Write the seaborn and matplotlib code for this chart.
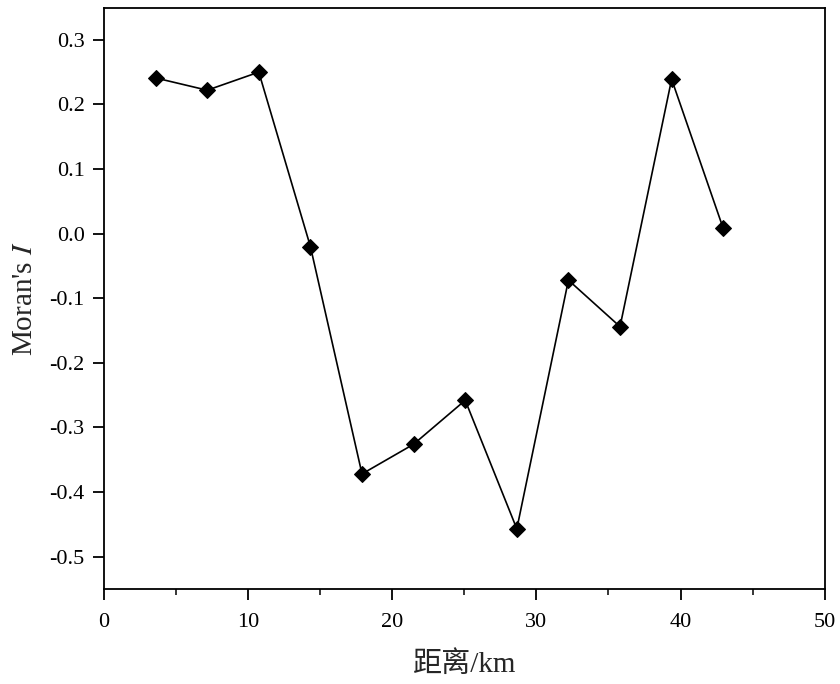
import matplotlib
matplotlib.use("Agg")
import matplotlib.pyplot as plt
import seaborn as sns
import pandas as pd
from matplotlib.ticker import MultipleLocator

distance = [3.58, 7.16, 10.74, 14.32, 17.90, 21.48, 25.06, 28.64, 32.22, 35.80, 39.38, 42.96]
morans_i = [0.241, 0.222, 0.250, -0.020, -0.372, -0.326, -0.258, -0.457, -0.072, -0.144, 0.239, 0.008]

df = pd.DataFrame({"distance": distance, "moran": morans_i})

sns.set_style("ticks")
plt.rcParams["font.family"] = ["Liberation Serif", "Noto Sans CJK SC"]
plt.rcParams["mathtext.fontset"] = "stix"
plt.rcParams["axes.linewidth"] = 1.3

fig = plt.figure(figsize=(8.4, 6.84), dpi=100)
ax = fig.add_axes([0.1238, 0.139, 0.858, 0.850])

sns.lineplot(x="distance", y="moran", data=df, ax=ax, color="black", linewidth=1.2,
             marker="D", markersize=8, markerfacecolor="black", markeredgecolor="black")

ax.set_xlim(0, 50)
ax.set_ylim(-0.55, 0.35)
ax.xaxis.set_major_locator(MultipleLocator(10))
ax.xaxis.set_minor_locator(MultipleLocator(5))
ax.yaxis.set_major_locator(MultipleLocator(0.1))
ax.yaxis.set_major_formatter(matplotlib.ticker.FuncFormatter(lambda v, p: f"{v:.1f}".replace("-0.0", "0.0")))

for s in ax.spines.values():
    s.set_visible(True)
    s.set_color("black")

ax.tick_params(axis="both", which="major", direction="out", length=8, width=1.3,
               labelsize=16, colors="black", pad=6)
ax.tick_params(axis="x", which="major", pad=9)
ax.tick_params(axis="x", which="minor", direction="out", length=4, width=1.3)

ax.set_xlabel("距离/km", fontsize=21, labelpad=14)
ax.set_ylabel("Moran's $I$", fontsize=21, labelpad=8)

fig.savefig("out.png", dpi=100)
